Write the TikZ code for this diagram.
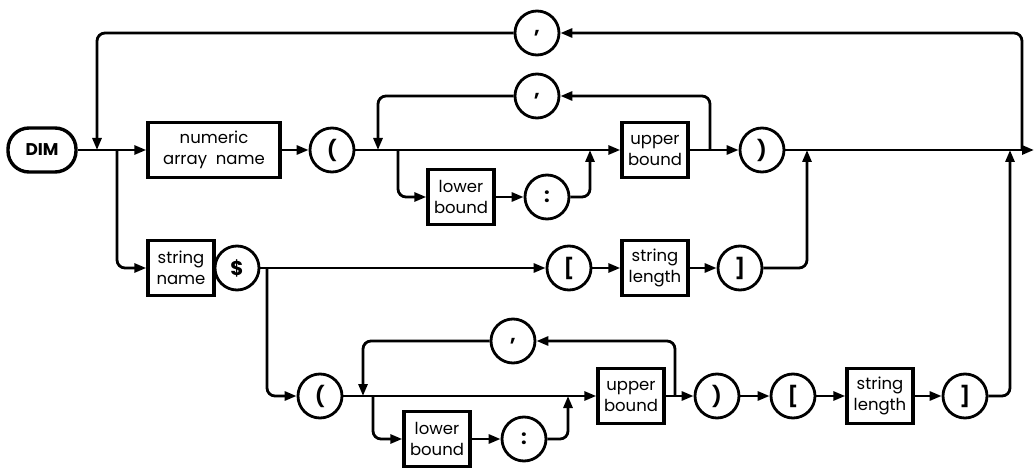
\documentclass[tikz,border=0pt]{standalone}
\usepackage{fontspec}
\setmainfont{Poppins}
\usetikzlibrary{arrows.meta}
\begin{document}
\begin{tikzpicture}[x=1pt,y=-1pt,
  term/.style={circle,draw,line width=2.8pt,minimum size=44pt,inner sep=0pt,font=\fontsize{20}{20}\selectfont\bfseries},
  nt/.style={rectangle,draw,line width=3.4pt,minimum height=55pt,minimum width=66pt,inner sep=1pt,align=center,font=\fontsize{16.5}{21}\selectfont},
  start/.style={rectangle,rounded corners=21pt,draw,line width=3.4pt,minimum width=68pt,minimum height=44pt,font=\fontsize{17}{17}\selectfont\bfseries},
  ln/.style={line width=2.8pt,rounded corners=8pt},
  ar/.style={ln,-{Triangle[length=12pt,width=9pt]}}]
\useasboundingbox (0,0) rectangle (1034,468);
% nodes
\node[start] (dim) at (42,150) {DIM};
\node[nt,minimum width=132pt] (numeric) at (214,150) {numeric\\array\ \ name};
\node[term] (lp1) at (332,150) {(};
\node[term] (comma1) at (537,33) {,};
\node[term] (comma2) at (537,96) {,};
\node[nt] (lob1) at (461,197) {lower\\bound};
\node[term] (col1) at (547,197) {:};
\node[nt] (ub1) at (655,150) {upper\\bound};
\node[term] (rp1) at (762,150) {)};
\node[nt] (sname) at (181,268) {string\\name};
\node[term] (dollar) at (237,268) {\$};
\node[term] (lb1) at (569,268) {[};
\node[nt] (sl1) at (655,268) {string\\length};
\node[term] (rb1) at (740,268) {]};
\node[term] (lp2) at (320,396) {(};
\node[term] (comma3) at (513,341) {,};
\node[nt] (lob2) at (437,439) {lower\\bound};
\node[term] (col2) at (524,439) {:};
\node[nt] (ub2) at (631,396) {upper\\bound};
\node[term] (rp2) at (717,396) {)};
\node[term] (lb2) at (793,396) {[};
\node[nt] (sl2) at (880,396) {string\\length};
\node[term] (rb2) at (965,396) {]};
% junction coordinates
\coordinate (jtop) at (97,150);
\coordinate (jstr) at (117,150);
\coordinate (jin1) at (378,150);
\coordinate (jlo1) at (398,150);
\coordinate (jup1) at (590,150);
\coordinate (jlp1) at (710,150);
\coordinate (jsl) at (807,150);
\coordinate (jbot) at (1010,150);
\coordinate (jtl) at (1022,150);
\coordinate (fin) at (1034,150);
\coordinate (jdol) at (267,268);
\coordinate (jin2) at (363,396);
\coordinate (jlo2) at (373,396);
\coordinate (jup2) at (568,396);
\coordinate (jlp2) at (675,396);
% main row
\draw[ar] (dim) -- (numeric);
\draw[ar] (numeric) -- (lp1);
\draw[ar] (lp1) -- (ub1);
\draw[ar] (ub1) -- (rp1);
\draw[ar] (rp1) -- (fin);
% outer loop
\draw[ar] (jtl) |- (comma1);
\draw[ar] (comma1) -| (jtop);
% inner loop
\draw[ar] (jlp1) |- (comma2);
\draw[ar] (comma2) -| (jin1);
\draw[ar] (jlo1) |- (lob1);
\draw[ar] (lob1) -- (col1);
\draw[ar] (col1) -| (jup1);
% string row
\draw[ar] (jstr) |- (sname);
\draw[ar] (dollar) -- (lb1);
\draw[ar] (lb1) -- (sl1);
\draw[ar] (sl1) -- (rb1);
\draw[ar] (rb1) -| (jsl);
% bottom row
\draw[ar] (jdol) |- (lp2);
\draw[ar] (lp2) -- (ub2);
\draw[ar] (jlp2) |- (comma3);
\draw[ar] (comma3) -| (jin2);
\draw[ar] (jlo2) |- (lob2);
\draw[ar] (lob2) -- (col2);
\draw[ar] (col2) -| (jup2);
\draw[ar] (ub2) -- (rp2);
\draw[ar] (rp2) -- (lb2);
\draw[ar] (lb2) -- (sl2);
\draw[ar] (sl2) -- (rb2);
\draw[ar] (rb2) -| (jbot);
\end{tikzpicture}
\end{document}
